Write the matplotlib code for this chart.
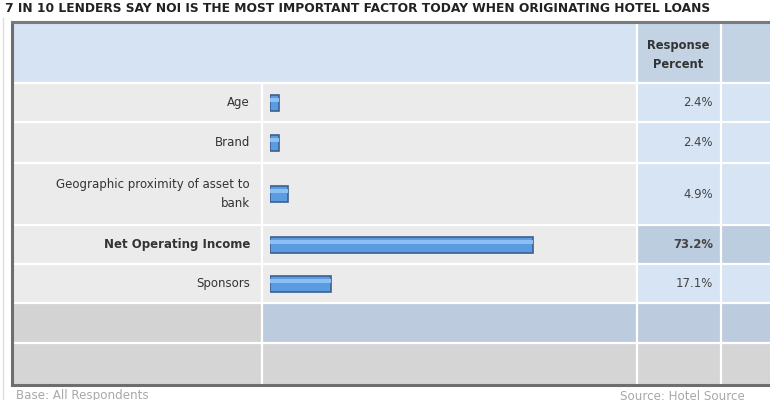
import matplotlib
matplotlib.use('Agg')
import matplotlib.pyplot as plt
from matplotlib.patches import Rectangle

# Data
title = "7 IN 10 LENDERS SAY NOI IS THE MOST IMPORTANT FACTOR TODAY WHEN ORIGINATING HOTEL LOANS"
categories = ["Age", "Brand", "Geographic proximity of asset to\nbank",
              "Net Operating Income", "Sponsors"]
percents = [2.4, 2.4, 4.9, 73.2, 17.1]
highlight = [False, False, False, True, False]
footer_left = "Base: All Respondents"
footer_right = "Source: Hotel Source"

plt.rcParams['font.family'] = ['DejaVu Sans']

W, H = 770, 400
fig = plt.figure(figsize=(W / 100, H / 100), dpi=100)
fig.patch.set_facecolor('white')

bg = fig.add_axes([0, 0, 1, 1])
bg.set_xlim(0, W)
bg.set_ylim(H, 0)
bg.axis('off')

# table layout (pixels)
x_left, x_lab, x_resp, x_last, x_right = 12, 262, 637, 721, 772
header = (22, 83)
rows = [(83, 122), (122, 163), (163, 225), (225, 264), (264, 303)]
empty_rows = [(303, 343), (343, 384)]

blue_hdr = '#d5e3f2'
blue_col = '#c3d3e4'
blue_cell = '#d6e4f3'
blue_dark = '#bdcde0'
gray_row = '#ebebeb'


def cell(x0, x1, y0, y1, color):
    bg.add_patch(Rectangle((x0, y0), x1 - x0, y1 - y0, facecolor=color,
                           edgecolor='none', zorder=1))


# header
cell(x_left, x_right, header[0], header[1], blue_hdr)
cell(x_resp, x_last, header[0], header[1], blue_col)
cell(x_last, x_right, header[0], header[1], blue_col)
bg.text((x_resp + x_last) / 2 - 1, 55, "Response\nPercent", ha='center', va='center',
        fontsize=8.3, fontweight='bold', color='#333333', linespacing=1.6, zorder=3)

# data rows
for (y0, y1), cat, pct, hi in zip(rows, categories, percents, highlight):
    cell(x_left, x_resp, y0, y1, gray_row)
    c = blue_dark if hi else blue_cell
    cell(x_resp, x_last, y0, y1, c)
    cell(x_last, x_right, y0, y1, c)
    yc = (y0 + y1) / 2
    bg.text(250, yc, cat, ha='right', va='center', fontsize=8.5, color='#333333',
            fontweight='bold' if hi else 'normal', linespacing=1.6, zorder=3)
    bg.text(713, yc, f"{pct:.1f}%", ha='right', va='center', fontsize=8.4,
            color='#444444', fontweight='bold' if hi else 'normal', zorder=3)

# empty rows
cell(x_left, x_lab, *empty_rows[0], '#d3d3d3')
cell(x_lab, x_right, *empty_rows[0], '#bccbdd')
cell(x_left, x_right, *empty_rows[1], '#d5d5d5')

# white grid lines
for (y0, y1) in [header] + rows + empty_rows[:1]:
    bg.plot([x_left, x_right], [y1, y1], color='white', lw=1.6, zorder=2)
for x in (x_lab, x_resp, x_last):
    y_start = header[1] if x == x_lab else header[0]
    bg.plot([x, x], [y_start, empty_rows[1][1]], color='white', lw=1.6, zorder=2)

# frame
bg.plot([x_left, x_left], [header[0], empty_rows[1][1]], color='#6e6e6e', lw=2.2, zorder=4)
bg.plot([x_left, x_right], [header[0], header[0]], color='#7a7a7a', lw=2.2, zorder=4)
bg.plot([x_left, x_right], [empty_rows[1][1] + 1, empty_rows[1][1] + 1],
        color='#6e6e6e', lw=2.2, zorder=4)
bg.plot([3, 3], [18, H], color='#dddddd', lw=1, zorder=0)

# title and footer
bg.text(5, 9, title, ha='left', va='center', fontsize=8.8, fontweight='bold',
        color='#222222')
bg.text(16, 396, footer_left, ha='left', va='center', fontsize=8.6, color='#a8a8a8')
bg.text(620, 396, footer_right, ha='left', va='center', fontsize=8.6, color='#a8a8a8')

# bars
bx = fig.add_axes([270 / W, 0, 359 / W, 1])
bx.set_xlim(0, 100)
bx.set_ylim(H, 0)
bx.axis('off')
bx.patch.set_alpha(0)
centers = [(y0 + y1) / 2 for y0, y1 in rows]
bx.barh(centers, percents, height=16, left=0, color='#5b9be2', edgecolor='#3e5f8e',
        linewidth=1.2, zorder=5)
bx.barh([c - 3 for c in centers], percents, height=4, left=0, color='#8cc0f2',
        edgecolor='none', zorder=6)

fig.savefig('out.png', dpi=100, facecolor='white')
